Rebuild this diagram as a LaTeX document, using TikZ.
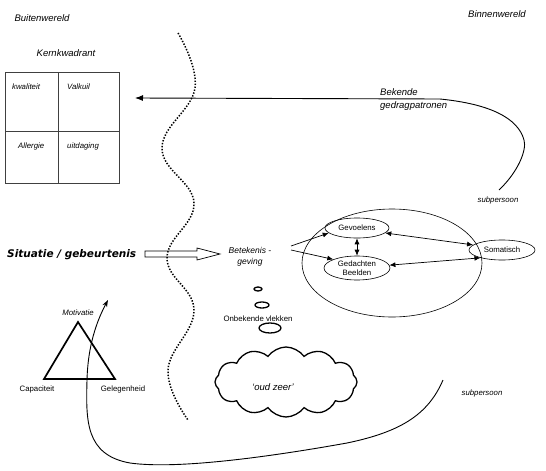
\documentclass[tikz,border=0pt]{standalone}
\usepackage{fontspec}
\setmainfont{Liberation Sans}
\newfontfamily\verd{DejaVu Sans}
\usetikzlibrary{shapes.geometric,shapes.symbols,arrows.meta}
\begin{document}
\begin{tikzpicture}[x=1pt,y=-1pt,
 lbl/.style={font=\itshape\fontsize{9.5}{13}\selectfont, inner sep=0},
 sm/.style={font=\fontsize{7.8}{9}\selectfont, inner sep=0},
 smi/.style={font=\itshape\fontsize{7.8}{9}\selectfont, inner sep=0},
 ell/.style={draw, ellipse, inner sep=0, line width=0.6pt},
 quad/.style={draw=black!75, line width=1.1pt, anchor=north west, inner sep=0},
 arr/.style={-{Latex[length=6pt,width=5pt]}, line width=0.7pt},
 darr/.style={{Latex[length=6pt,width=5pt]}-{Latex[length=6pt,width=5pt]}, line width=0.7pt},
 curve/.style={line width=0.9pt},
 bubble/.style={draw, ellipse, inner sep=0, line width=1.3pt},
]
\useasboundingbox (0,0) rectangle (546,471);
\fill[white] (0,0) rectangle (546,471);

% titles
\node[lbl] (buiten) at (42,18) {Buitenwereld};
\node[lbl] (binnen) at (497,14) {Binnenwereld};
\node[lbl] (kern) at (66,53) {Kernkwadrant};

% core quadrant
\node[quad, minimum width=53, minimum height=59] (q1) at (5,72) {};
\node[quad, minimum width=61, minimum height=59] (q2) at (58,72) {};
\node[quad, minimum width=53, minimum height=52] (q3) at (5,131) {};
\node[quad, minimum width=61, minimum height=52] (q4) at (58,131) {};
\node[smi, anchor=west] (kw) at (12,87) {kwaliteit};
\node[smi, anchor=west] (vk) at (67,87) {Valkuil};
\node[smi, anchor=west] (al) at (18,146) {Allergie};
\node[smi, anchor=west] (ui) at (67,146) {uitdaging};

% dotted border
\draw[line width=1.5pt, dash pattern=on 1.4pt off 1.6pt]
  plot[smooth, tension=0.7] coordinates {(178,33) (195,88) (162,148) (194,203) (167,258) (194,310) (168,370) (188,420)};

% known behaviour patterns
\coordinate (c1) at (499,190);
\coordinate (tipA) at (135,98);
\node[lbl, align=left, anchor=north west] (bek) at (380,88) {Bekende\\gedragpatronen};
\draw[curve, -{Latex[length=8pt,width=6pt]}] (c1) .. controls (518,172) and (527,150) .. (524,140)
   .. controls (518,118) and (490,104) .. (440,99) -- (tipA);
\node[smi] (sp1) at (498,200) {subpersoon};

% situation
\node[font=\verd\bfseries\itshape\fontsize{10.5}{12}\selectfont, anchor=west, inner sep=0] (sit) at (7,255) {Situatie / gebeurtenis};
\draw[line width=0.7pt] (145,251) -- (197,251) -- (197,248) -- (220,254) -- (197,260) -- (197,257) -- (145,257) -- cycle;
\node[font=\itshape\fontsize{8.5}{11}\selectfont, align=center, inner sep=0] (bet) at (250,257) {Betekenis -\\geving};

% subperson inner world
\node[ell, minimum width=180, minimum height=108] (sub) at (392,263) {};
\node[ell, sm, minimum width=64, minimum height=20] (gev) at (357,228) {Gevoelens};
\node[ell, sm, align=center, minimum width=66, minimum height=24] (ged) at (357,268) {Gedachten\\Beelden};
\node[ell, sm, minimum width=66, minimum height=20] (som) at (502,250) {Somatisch};
\coordinate (b1) at (291,246);
\coordinate (b2) at (291,250);
\draw[arr] (b1) -- (gev.190);
\draw[arr] (b2) -- (ged.160);
\draw[darr] (gev.south) -- (ged.north);
\draw[darr] (gev.-10) -- (som.170);
\draw[darr] (ged.5) -- (som.200);

% unknown spots
\node[bubble, minimum width=8, minimum height=4] (v1) at (258,289) {};
\node[bubble, minimum width=14, minimum height=6] (v2) at (262,305) {};
\node[sm] (onb) at (258,319) {Onbekende vlekken};
\node[bubble, minimum width=22, minimum height=10] (v3) at (270,328) {};
\node[cloud, draw, line width=1.3pt, cloud puffs=12, cloud puff arc=110, aspect=2, minimum width=142, minimum height=70, inner sep=0] (oud) at (286,382) {};
\node[font=\itshape\fontsize{9.5}{11}\selectfont, inner sep=0] (oudt) at (273,387) {‘oud zeer’};

% triangle
\coordinate (tA) at (78,322);
\coordinate (tB) at (44,379);
\coordinate (tC) at (115,379);
\draw[line width=1.7pt, line join=miter] (tA) -- (tB) -- (tC) -- cycle;
\node[smi] (mot) at (78,313) {Motivatie};
\node[sm] (cap) at (37,389) {Capaciteit};
\node[sm] (gel) at (123,389) {Gelegenheid};

% lower subperson
\coordinate (d1) at (443,380);
\coordinate (d2) at (108,300);
\draw[curve, -{Stealth[length=7pt,width=5pt,open]}] (d1) .. controls (428,415) and (400,432) .. (347,443)
  .. controls (280,455) and (180,470) .. (130,463)
  .. controls (85,455) and (86,420) .. (87,380)
  .. controls (88,340) and (100,315) .. (d2);
\node[smi] (sp2) at (482,393) {subpersoon};
\end{tikzpicture}
\end{document}
